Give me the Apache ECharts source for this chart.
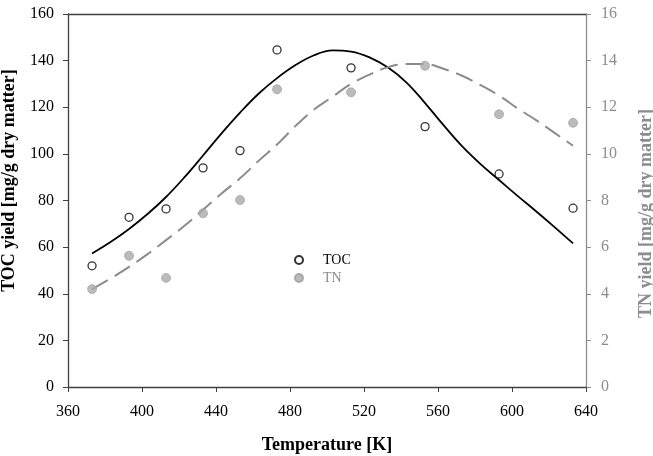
<!DOCTYPE html>
<html>
<head>
<meta charset="utf-8">
<script src="https://cdn.jsdelivr.net/npm/echarts@6/dist/echarts.min.js"></script>
<style>
html,body{margin:0;padding:0;background:#fff;}
#chart{width:653px;height:456px;}
</style>
</head>
<body>
<div id="chart"></div>
<script>
// Measured data
var temps = [373, 393, 413, 433, 453, 473, 513, 553, 593, 633];
var tocValues = [52.0, 72.8, 76.4, 94.0, 101.4, 144.6, 136.9, 111.7, 91.4, 76.7];
var tnValues = [4.20, 5.63, 4.68, 7.45, 8.02, 12.77, 12.64, 13.78, 11.70, 11.33];

// Fitted curves
var fitTemps = [373, 383, 393, 403, 413, 423, 433, 443, 453, 463, 473, 483, 493, 503, 513, 523, 533, 543, 553, 563, 573, 583, 593, 603, 613, 623, 633];
var tocFit = [57.3, 62.2, 67.8, 74.2, 81.5, 90.0, 99.3, 108.8, 117.7, 125.8, 132.5, 138.1, 142.3, 144.4, 143.9, 141.4, 137.0, 130.6, 121.8, 112.3, 103.3, 95.6, 88.8, 82.0, 75.4, 68.6, 61.6];
var tnFit = [4.20, 4.65, 5.15, 5.70, 6.30, 6.92, 7.60, 8.30, 8.95, 9.70, 10.40, 11.20, 11.90, 12.45, 13.00, 13.40, 13.72, 13.85, 13.85, 13.65, 13.35, 12.95, 12.50, 11.95, 11.45, 10.90, 10.35];

var xTicks = {min: 360, max: 640, interval: 40};
var yLeft = {min: 0, max: 160, interval: 20};
var yRight = {min: 0, max: 16, interval: 2};

function pairs(xs, ys) { return xs.map(function (x, i) { return [x, ys[i]]; }); }

var FONT = "'Liberation Serif', 'Times New Roman', serif";
var chart = echarts.init(document.getElementById('chart'));
chart.setOption({
  animation: false,
  textStyle: {fontFamily: FONT},
  grid: {left: 68, right: 67, top: 14, bottom: 69, containLabel: false, outerBoundsMode: 'none'},
  legend: {
    orient: 'vertical', left: 289, top: 248,
    itemWidth: 38, itemHeight: 8, itemGap: 4,
    textStyle: {fontFamily: FONT, fontSize: 14},
    data: [
      {name: 'TOC', icon: 'circle', textStyle: {color: '#000'}},
      {name: 'TN', icon: 'circle', textStyle: {color: '#8c8c8c'}}
    ]
  },
  xAxis: [{
    type: 'value', min: xTicks.min, max: xTicks.max, interval: xTicks.interval,
    name: 'Temperature [K]', nameLocation: 'middle', nameGap: 49,
    nameTextStyle: {fontFamily: FONT, fontSize: 18, fontWeight: 'bold', color: '#000'},
    axisLine: {onZero: false, lineStyle: {color: '#404040', width: 1.3}},
    axisTick: {show: true, inside: false, length: 5, lineStyle: {color: '#404040'}},
    axisLabel: {fontFamily: FONT, fontSize: 16, color: '#000', margin: 17},
    splitLine: {show: false}
  }, {
    type: 'value', position: 'top', min: xTicks.min, max: xTicks.max,
    axisLine: {onZero: false, lineStyle: {color: '#404040', width: 1.3}},
    axisTick: {show: false}, axisLabel: {show: false}, splitLine: {show: false}
  }],
  yAxis: [{
    type: 'value', position: 'left', min: yLeft.min, max: yLeft.max, interval: yLeft.interval,
    name: 'TOC yield [mg/g dry matter]', nameLocation: 'middle', nameGap: 50,
    nameTextStyle: {fontFamily: FONT, fontSize: 18, fontWeight: 'bold', color: '#000', padding: [0, 0, 0, 40]},
    axisLine: {show: true, onZero: false, lineStyle: {color: '#404040', width: 1.3}},
    axisTick: {show: true, inside: false, length: 5, lineStyle: {color: '#404040'}},
    axisLabel: {fontFamily: FONT, fontSize: 16, color: '#000', margin: 14},
    splitLine: {show: false}
  }, {
    type: 'value', position: 'right', min: yRight.min, max: yRight.max, interval: yRight.interval,
    name: 'TN yield [mg/g dry matter]', nameLocation: 'middle', nameGap: 51,
    nameRotate: 90,
    nameTextStyle: {fontFamily: FONT, fontSize: 18, fontWeight: 'bold', color: '#8c8c8c', padding: [0, 26, 0, 0]},
    axisLine: {show: true, onZero: false, lineStyle: {color: '#8c8c8c', width: 1.3}},
    axisTick: {show: true, inside: false, length: 5, lineStyle: {color: '#8c8c8c'}},
    axisLabel: {fontFamily: FONT, fontSize: 16, color: '#8c8c8c', margin: 15},
    splitLine: {show: false}
  }],
  series: [
    {
      name: 'TOC fit', type: 'line', xAxisIndex: 0, yAxisIndex: 0,
      data: pairs(fitTemps, tocFit), smooth: 0.4, showSymbol: false, symbol: 'none',
      lineStyle: {color: '#000', width: 1.8}, z: 2, silent: true
    },
    {
      name: 'TN fit', type: 'line', xAxisIndex: 0, yAxisIndex: 1,
      data: pairs(fitTemps, tnFit), smooth: 0.4, showSymbol: false, symbol: 'none',
      lineStyle: {color: '#8c8c8c', width: 2, type: [18, 8]}, z: 2, silent: true
    },
    {
      name: 'TOC', type: 'scatter', xAxisIndex: 0, yAxisIndex: 0,
      data: pairs(temps, tocValues), symbol: 'circle', symbolSize: 8,
      itemStyle: {color: '#fff', borderColor: '#000', borderWidth: 1.3}, z: 3
    },
    {
      name: 'TN', type: 'scatter', xAxisIndex: 0, yAxisIndex: 1,
      data: pairs(temps, tnValues), symbol: 'circle', symbolSize: 9,
      itemStyle: {color: '#aaaaaa', borderColor: '#9c9c9c', borderWidth: 0.8}, z: 3
    }
  ]
});
</script>
</body>
</html>
